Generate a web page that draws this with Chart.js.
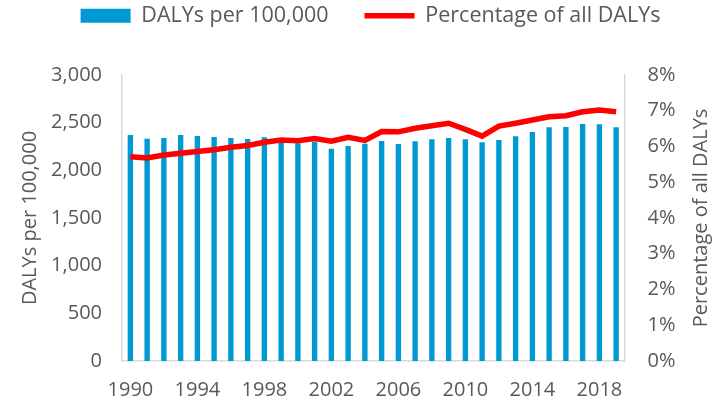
<!DOCTYPE html>
<html><head><meta charset="utf-8">
<script src="https://cdn.jsdelivr.net/npm/chart.js@4/dist/chart.umd.min.js"></script>
<style>html,body{margin:0;padding:0;background:#fff}#wrap{width:715px;height:402px}</style>
</head><body><div id="wrap"><canvas id="c" width="715" height="402"></canvas></div>
<script>
const years = [1990,1991,1992,1993,1994,1995,1996,1997,1998,1999,2000,2001,2002,2003,2004,2005,2006,2007,2008,2009,2010,2011,2012,2013,2014,2015,2016,2017,2018,2019];
const dalysPer100k = [2370,2332,2339,2370,2360,2350,2339,2329,2346,2290,2285,2301,2227,2255,2280,2308,2276,2304,2325,2339,2325,2294,2318,2357,2402,2451,2455,2486,2483,2451];
const pctAllDalys = [5.71,5.68,5.76,5.81,5.86,5.91,5.98,6.03,6.12,6.18,6.16,6.22,6.15,6.26,6.17,6.42,6.41,6.51,6.58,6.65,6.48,6.29,6.57,6.65,6.74,6.83,6.86,6.97,7.02,6.97];
const leftTicks = [0,500,1000,1500,2000,2500,3000];
const rightTicks = [0,1,2,3,4,5,6,7,8];
const rightTitle = 'Percentage of all DALYs';

const grey = '#595959', axisCol = '#d9d9d9';
const font = {family:'"Open Sans"', size:20};
const legendFont = {family:'"Open Sans"', size:21.5};

const tweak = {
  id:'tweak',
  beforeLayout(chart){
    const lg = chart.legend;
    if (lg && !lg._tw) {
      lg._tw = true;
      const f = lg.fit, d = lg.draw;
      lg.fit = function(){ f.apply(this, arguments); this.height = 75; };
      lg.draw = function(){ const c = this.ctx; c.save(); c.translate(4,-31); d.apply(this, arguments); c.restore(); };
    }
  },
  afterDraw(chart){
    const c = chart.ctx, a = chart.chartArea;
    c.save();
    c.translate(701, (a.top + a.bottom)/2);
    c.rotate(-Math.PI/2);
    c.fillStyle = grey; c.font = '20px "Open Sans"';
    c.textAlign = 'center'; c.textBaseline = 'middle';
    c.fillText(rightTitle, 0, 0);
    c.restore();
  }
};

new Chart(document.getElementById('c'), {
  data: {
    labels: years,
    datasets: [
      {type:'line', label:'Percentage of all DALYs', data:pctAllDalys, yAxisID:'y1', borderColor:'#ff0000', backgroundColor:'#ff0000', borderWidth:5.5, pointRadius:0, tension:0, pointStyle:'line', order:0},
      {type:'bar', label:'DALYs per 100,000', data:dalysPer100k, yAxisID:'y', backgroundColor:'#0099d4', barPercentage:0.32, categoryPercentage:1, pointStyle:'rect', order:1}
    ]
  },
  plugins:[tweak],
  options: {
    responsive:false, animation:false,
    layout:{padding:{top:0,left:18,right:0,bottom:0}},
    plugins:{
      tooltip:{enabled:false},
      legend:{position:'top', reverse:true,
        labels:{usePointStyle:true, pointStyleWidth:50, boxHeight:14, color:grey, font:legendFont, padding:36}}
    },
    scales:{
      x:{grid:{display:false, drawTicks:false}, border:{color:axisCol, width:1.5},
        ticks:{color:grey, font:font, autoSkip:false, maxRotation:0, padding:17,
          callback:function(v,i){return i%4===0 ? years[i] : '';}},
        afterFit:function(s){s.height=41;}},
      y:{position:'left', min:0, max:3000, grid:{display:false, drawTicks:false}, border:{color:axisCol, width:1.5},
        afterBuildTicks:function(s){s.ticks=leftTicks.map(v=>({value:v}));},
        ticks:{color:grey, font:font, padding:20, callback:v=>v.toLocaleString('en-US')},
        title:{display:true, text:'DALYs per 100,000', color:grey, font:font, padding:0},
        afterFit:function(s){s.width=104;}},
      y1:{position:'right', min:0, max:8, grid:{display:false, drawTicks:true, tickLength:9, tickColor:axisCol, tickWidth:1.5}, border:{color:axisCol, width:1.5},
        afterBuildTicks:function(s){s.ticks=rightTicks.map(v=>({value:v}));},
        ticks:{color:grey, font:font, padding:14, callback:v=>v+'%'},
        title:{display:false},
        afterFit:function(s){s.width=90.5;}}
    }
  }
});
</script></body></html>
